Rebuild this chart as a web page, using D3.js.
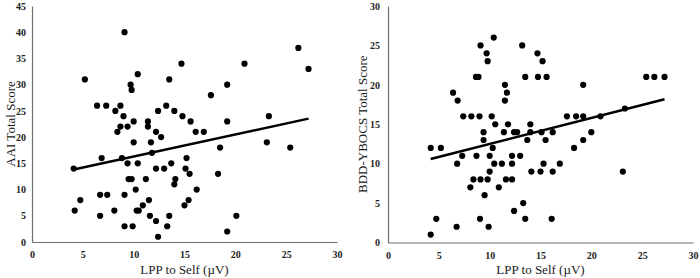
<!DOCTYPE html>
<html>
<head>
<meta charset="utf-8">
<script src="https://cdn.jsdelivr.net/npm/d3@7"></script>
<style>
body { margin: 0; background: #fff; }
svg { display: block; background: #fff; }
</style>
</head>
<body>
<svg width="700" height="278"></svg>
<script>
// LPP to Self (x) vs AAI total score (y)
const aaiPoints = [
    [9.1, 40], [14.7, 34], [5.2, 31], [10.4, 32], [13.5, 31], [9.7, 30], [9.8, 29], [17.6, 28],
    [6.4, 26], [7.3, 26], [8.7, 26], [8.2, 25], [9.0, 24], [10.0, 23], [11.4, 23], [12.4, 25],
    [13.2, 26], [14.0, 25], [14.8, 24], [15.6, 23], [8.7, 22], [9.4, 22], [11.4, 22], [26.2, 37],
    [27.2, 33], [20.9, 34], [19.2, 30], [19.2, 23], [23.3, 24], [16.1, 21], [16.9, 21], [8.4, 21],
    [12.2, 21], [12.7, 20], [10.0, 19], [11.7, 19], [6.85, 16], [8.85, 16], [11.8, 17], [15.2, 16],
    [4.1, 14], [9.4, 15], [10.4, 15], [12.2, 14], [13.0, 14], [13.7, 15], [15.1, 14], [15.5, 13],
    [18.3, 13], [9.5, 12], [9.8, 12], [11.2, 12], [14.1, 12], [14.0, 11], [10.2, 10], [16.2, 10],
    [4.75, 8], [6.7, 9], [7.4, 9], [9.1, 9], [10.9, 7], [11.5, 8], [15.4, 8], [15.0, 7],
    [4.2, 6], [6.7, 5], [8.1, 6], [10.3, 6], [10.5, 6], [11.6, 5], [12.2, 4], [13.5, 5],
    [9.1, 3], [9.9, 3], [13.3, 3], [12.4, 1], [18.5, 18], [23.1, 19], [25.4, 18], [20.1, 5],
    [19.2, 2]
];

// LPP to Self (x) vs BDD-YBOCS total score (y)
const bddPoints = [
    [10.4, 26], [9.1, 25], [9.7, 24], [9.8, 23], [13.2, 25], [14.7, 24], [15.2, 23], [8.65, 21],
    [8.9, 21], [13.5, 21], [14.75, 21], [15.6, 21], [11.5, 20], [11.7, 19], [11.5, 18], [6.4, 19],
    [6.85, 18], [7.4, 16], [8.2, 16], [9.0, 16], [10.2, 16], [10.55, 15], [11.8, 15], [14.0, 15],
    [17.6, 16], [18.5, 16], [19.2, 16], [19.2, 20], [25.4, 21], [26.2, 21], [27.2, 21], [20.9, 16],
    [23.3, 17], [12.7, 14], [14.0, 14], [15.1, 14], [16.2, 14], [13.7, 13], [15.5, 13], [19.2, 13],
    [20.0, 14], [9.4, 14], [11.4, 14], [12.4, 14], [9.4, 13], [18.3, 12], [4.2, 12], [5.2, 12],
    [10.3, 12], [6.8, 10], [7.3, 11], [8.7, 11], [10.0, 11], [10.45, 10], [11.2, 10], [12.2, 11],
    [13.0, 11], [12.2, 10], [10.0, 9], [8.4, 8], [9.1, 8], [9.8, 8], [11.6, 8], [12.2, 8],
    [8.1, 7], [10.9, 7], [9.5, 6], [15.3, 10], [14.1, 9], [15.0, 9], [16.2, 9], [16.9, 10],
    [13.3, 5], [12.4, 4], [4.75, 3], [9.05, 3], [13.5, 3], [16.1, 3], [6.75, 2], [9.9, 2],
    [4.2, 1], [23.1, 9]
];

// trend lines: [intercept, slope]
const aaiFit = [12.1, 0.42];
const bddFit = [9.2, 0.33];

const xTicks = [0, 5, 10, 15, 20, 25, 30];
const aaiTicks = [0, 5, 10, 15, 20, 25, 30, 35, 40, 45];
const bddTicks = [0, 5, 10, 15, 20, 25, 30];

const xTitle = "LPP to Self (\u00B5V)";
const aaiTitle = "AAI Total Score";
const bddTitle = "BDD-YBOCS Total Score";

const FONT = "'Liberation Serif', 'Times New Roman', serif";

function drawPanel(svg, points, fit, yTicks, yTitle, area) {
    const scX = d3.scaleLinear()
        .domain([0, 30])
        .range([area.left, area.right]);
    const scY = d3.scaleLinear()
        .domain([0, d3.max(yTicks)])
        .range([area.bottom, area.top]);

    const gx = svg.append("g")
        .attr("transform", `translate(0, ${area.bottom})`)
        .call(d3.axisBottom(scX).tickValues(xTicks).tickSize(0).tickPadding(9));
    const gy = svg.append("g")
        .attr("transform", `translate(${area.left}, 0)`)
        .call(d3.axisLeft(scY).tickValues(yTicks).tickSize(0).tickPadding(area.yPad));

    [gx, gy].forEach(g => {
        g.attr("font-family", FONT).attr("font-size", 10).attr("font-weight", "bold");
        g.select(".domain").attr("stroke", "#6e6e6e").attr("stroke-width", 1.2);
        g.selectAll("text").attr("fill", "#222");
    });

    svg.append("g")
        .selectAll("circle")
        .data(points)
        .enter()
        .append("circle")
        .attr("cx", d => scX(d[0]))
        .attr("cy", d => scY(d[1]))
        .attr("r", 3.1)
        .style("fill", "#000");

    const [x0, x1] = d3.extent(points, d => d[0]);
    const line = d3.line()
        .x(d => scX(d))
        .y(d => scY(fit[0] + fit[1] * d));
    svg.append("path")
        .datum([x0, x1])
        .attr("d", line)
        .style("fill", "none")
        .style("stroke", "#000")
        .style("stroke-width", 2.5);

    svg.append("text")
        .attr("x", (area.left + area.right) / 2)
        .attr("y", 274)
        .attr("text-anchor", "middle")
        .attr("font-family", FONT)
        .attr("font-size", 13)
        .attr("fill", "#1a1a1a")
        .text(xTitle);

    const cy = (area.top + area.bottom) / 2;
    svg.append("text")
        .attr("transform", `translate(${area.titleX}, ${cy}) rotate(-90)`)
        .attr("text-anchor", "middle")
        .attr("dy", "0.35em")
        .attr("font-family", FONT)
        .attr("font-size", 13)
        .attr("fill", "#1a1a1a")
        .text(yTitle);
}

const svg = d3.select("svg");

drawPanel(svg, aaiPoints, aaiFit, aaiTicks, aaiTitle,
    { left: 32, right: 337, top: 6, bottom: 242, titleX: 10, yPad: 6 });
drawPanel(svg, bddPoints, bddFit, bddTicks, bddTitle,
    { left: 388, right: 693, top: 6, bottom: 242.5, titleX: 362, yPad: 8 });
</script>
</body>
</html>
